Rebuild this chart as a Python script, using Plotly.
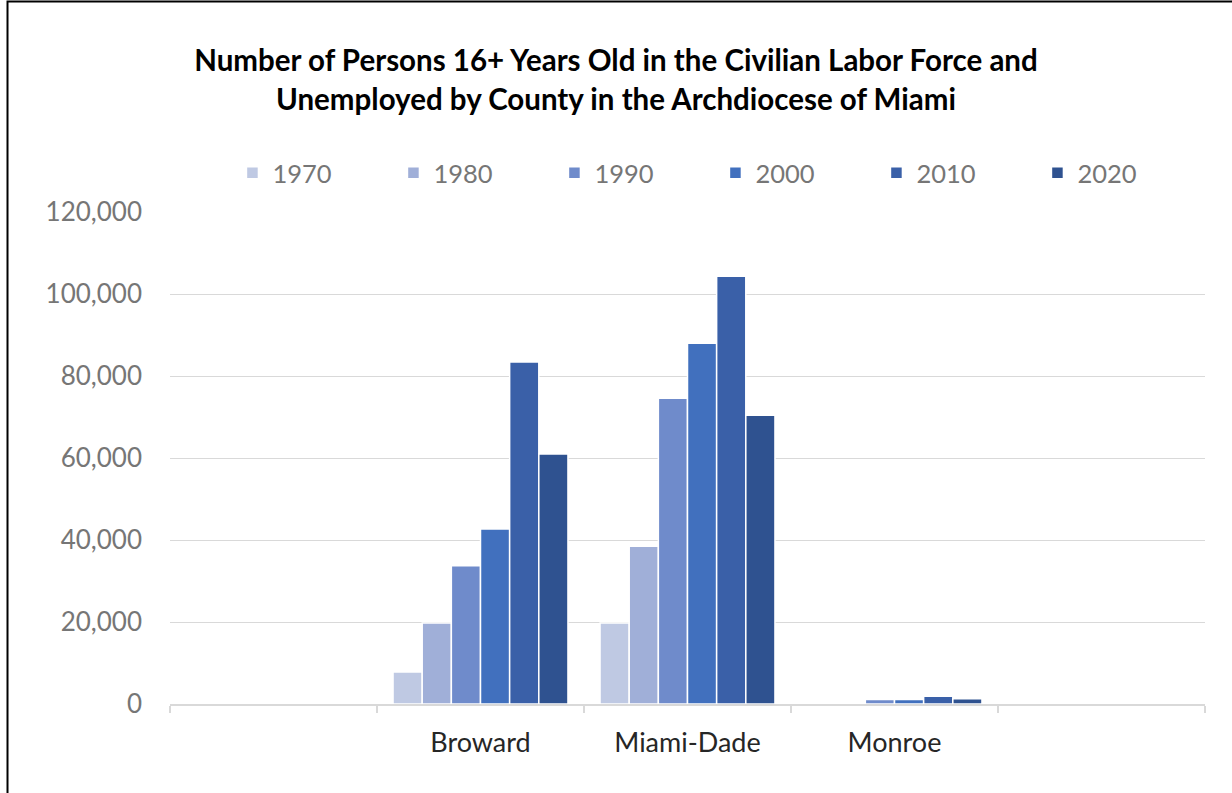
import plotly.graph_objects as go

categories = [" ", "Broward", "Miami-Dade", "Monroe", "  "]
years = ["1970", "1980", "1990", "2000", "2010", "2020"]
values = {
    "1970": [None, 7800, 19750, None, None],
    "1980": [None, 19750, 38500, None, None],
    "1990": [None, 33700, 74600, 1100, None],
    "2000": [None, 42700, 88000, 1100, None],
    "2010": [None, 83400, 104300, 1900, None],
    "2020": [None, 61000, 70400, 1300, None],
}
colors = ["#BFC9E3", "#A0AFD8", "#6F8BCB", "#4170BE", "#3A60A8", "#2F5290"]
tick_vals = [0, 20000, 40000, 60000, 80000, 100000, 120000]

fig = go.Figure()
for yr, col in zip(years, colors):
    fig.add_trace(go.Bar(
        x=categories, y=values[yr], name=yr,
        marker=dict(color=col, line=dict(color="white", width=1.5)),
    ))

fig.update_layout(
    width=1232, height=793,
    paper_bgcolor="white", plot_bgcolor="white",
    margin=dict(l=170, r=27, t=212, b=89),
    barmode="group", bargap=0.155, bargroupgap=0.0,
    font=dict(family="Lato", color="#767676"),
    title=dict(
        text="Number of Persons 16+ Years Old in the Civilian Labor Force and<br>Unemployed by County in the Archdiocese of Miami",
        x=0.5, xanchor="center", xref="container", y=0.91, yanchor="top",
        font=dict(family="Lato", size=29.5, color="black", weight="bold"),
    ),
    legend=dict(
        orientation="h", x=0.527, xanchor="center", y=1.079, yanchor="middle",
        font=dict(size=25.5, color="#767676"), traceorder="normal",
        itemwidth=30, entrywidth=116, entrywidthmode="pixels",
    ),
    xaxis=dict(
        type="category", categoryorder="array", categoryarray=categories,
        tickson="boundaries", ticks="outside", ticklen=7, tickcolor="#D9D9D9", tickwidth=1.5,
        showline=True, linecolor="#D9D9D9", linewidth=1.5,
        tickfont=dict(size=27, color="#262626"), showgrid=False,
        ticklabelstandoff=14,
    ),
    yaxis=dict(
        range=[0, 120000], tickvals=tick_vals, tickformat=",",
        showgrid=True, gridcolor="#D9D9D9", gridwidth=1,
        zeroline=False, showline=False, ticks="",
        tickfont=dict(size=26, color="#767676"), ticklabelstandoff=27,
    ),
    shapes=[dict(
        type="rect", xref="paper", yref="paper",
        x0=-0.157, x1=1.05, y0=-0.3, y1=1.4278,
        line=dict(color="black", width=2), fillcolor="rgba(0,0,0,0)", layer="above",
    )],
)

fig.write_html(
    "out.html",
    config={"displayModeBar": False},
    post_script="document.body.style.margin='0';document.body.style.padding='0';",
)
